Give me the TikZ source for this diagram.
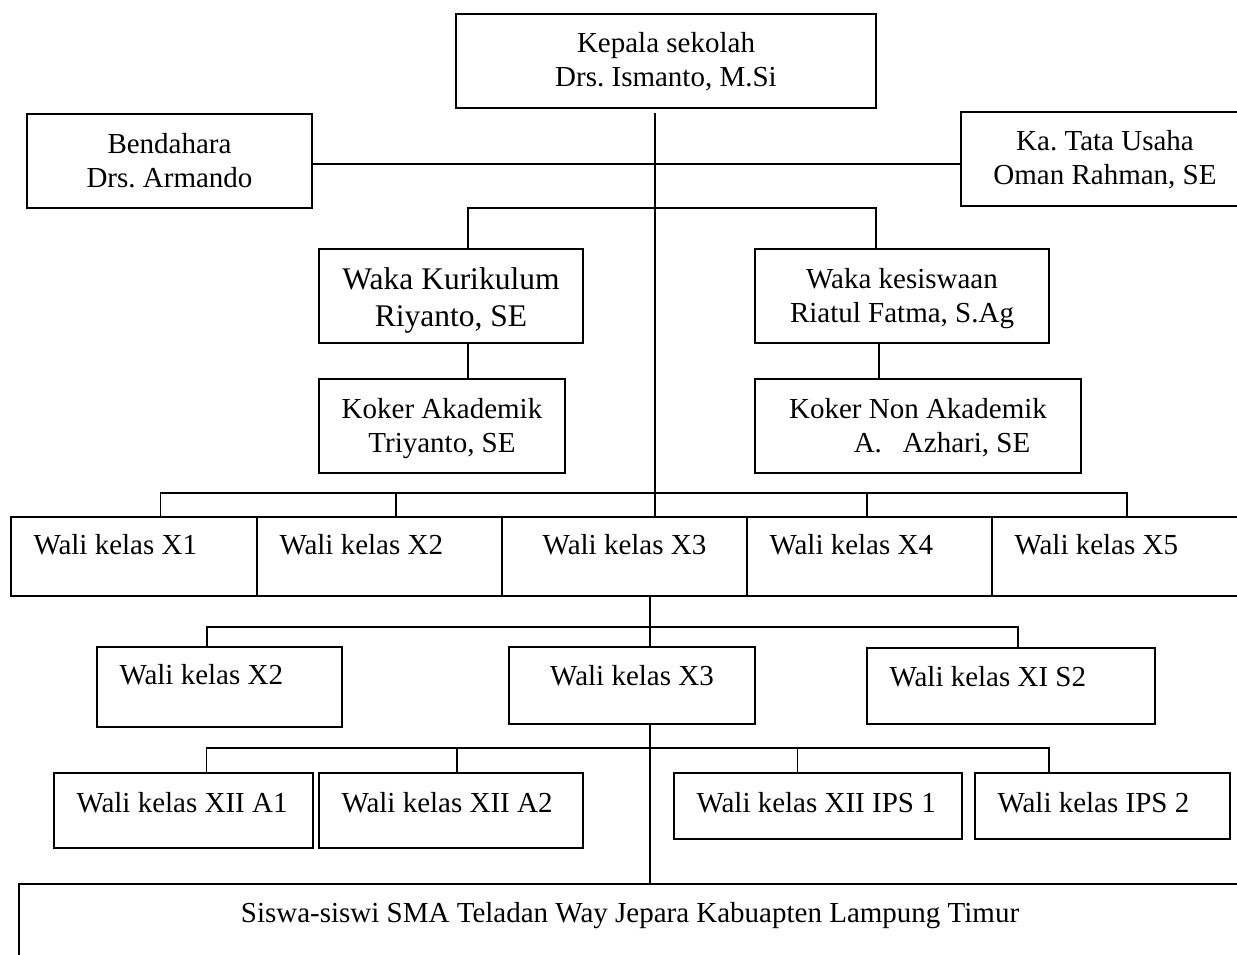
\documentclass[tikz,border=0pt]{standalone}
\usepackage{fontspec}
\setmainfont{Liberation Serif}
\usetikzlibrary{calc,positioning}

\tikzset{
  box/.style={draw, line width=1.8pt, inner sep=0pt, align=center,
    text height=54pt, text depth=2pt},
  wali/.style={draw, line width=1.8pt, inner xsep=22.5pt, inner ysep=0pt,
    align=flush left, text height=20pt, text width=#1},
  wali/.default=200pt,
  link/.style={line width=1.8pt},
}

\begin{document}
\frenchspacing
\begin{tikzpicture}[x=1pt, y=-1pt, font=\fontsize{29}{34}\selectfont]
\useasboundingbox (0,0) rectangle (1237,955);

%%%%%%%%%%%%%%%%% pimpinan
\node[box, minimum width=420pt, minimum height=94pt] (kepala) at (666,61) {Kepala sekolah\\Drs. Ismanto, M.Si};
\node[box, minimum width=285pt, minimum height=94pt] (bendahara) at (169.5,161) {Bendahara\\Drs. Armando};
\node[box, minimum width=288pt, minimum height=94pt] (tu) at (1105,159) {Ka. Tata Usaha\\Oman Rahman, SE};

%%%%%%%%%%%%%%%%% waka & koker
\node[box, minimum width=264pt, minimum height=94pt, font=\fontsize{31.5}{37}\selectfont, text height=60pt, text depth=0pt] (wakakur) at (451,296) {Waka Kurikulum\\Riyanto, SE};
\node[box, minimum width=246pt, minimum height=94pt] (kokerak) at (442,426) {Koker Akademik\\Triyanto, SE};
\node[box, minimum width=294pt, minimum height=94pt] (wakasis) at (902,296) {Waka kesiswaan\\Riatul Fatma, S.Ag};
\node[box, minimum width=326pt, minimum height=94pt] (kokernon) at (918,426) {Koker Non Akademik\\\hspace*{48pt}A.\hspace{21pt}Azhari, SE};

%%%%%%%%%%%%%%%%% wali kelas X
\node[wali=201pt, minimum height=79pt, text depth=25pt] (x1) at (134,556.5) {Wali kelas X1};
\node[wali=200pt, minimum height=79pt, text depth=25pt] (x2) at (379.5,556.5) {Wali kelas X2};
\node[box, minimum width=245pt, minimum height=79pt, text height=20pt, text depth=25pt] (x3) at (624.5,556.5) {Wali kelas X3};
\node[wali=200pt, minimum height=79pt, text depth=25pt] (x4) at (869.5,556.5) {Wali kelas X4};
\node[wali=201pt, minimum height=79pt, text depth=25pt] (x5) at (1115,556.5) {Wali kelas X5};

%%%%%%%%%%%%%%%%% wali kelas XI
\node[wali=200pt, minimum height=80pt, text depth=26pt] (m2) at (219.5,687) {Wali kelas X2};
\node[box, minimum width=246pt, minimum height=77pt, text height=20pt, text depth=21pt] (m3) at (632,685.5) {Wali kelas X3};
\node[wali=243pt, minimum height=76pt, text depth=20pt] (m11) at (1011,686) {Wali kelas XI S2};

%%%%%%%%%%%%%%%%% wali kelas XII
\node[wali=214pt, minimum height=75pt, text depth=17pt] (a1) at (183.5,810.5) {Wali kelas XII A1};
\node[wali=219pt, minimum height=75pt, text depth=17pt] (a2) at (451,810.5) {Wali kelas XII A2};
\node[wali=243pt, minimum height=66pt, text depth=8pt] (ips1) at (818,806) {Wali kelas XII IPS 1};
\node[wali=210pt, minimum height=66pt, text depth=8pt] (ips2) at (1102.5,806) {Wali kelas IPS 2};

\node[box, minimum width=1222pt, minimum height=96pt, text height=20pt, text depth=40pt] (siswa) at (630,932) {Siswa-siswi SMA Teladan Way Jepara Kabuapten Lampung Timur};

%%%%%%%%%%%%%%%%% garis
\coordinate (spine) at (655,113);
\coordinate (busA) at (0,164);
\coordinate (busB) at (0,208);
\coordinate (busC) at (0,493);
\coordinate (busD) at (0,627);
\coordinate (busE) at (0,748);

\draw[link] (spine) -- (spine |- x3.north);
\draw[link] (bendahara.east |- busA) -- (tu.west |- busA);
\draw[link] ([xshift=17pt]wakakur.north) |- ([xshift=-26pt]wakasis.north |- busB) -- ([xshift=-26pt]wakasis.north);
\draw[link] ([xshift=17pt]wakakur.south) -- ([xshift=17pt]wakakur.south |- kokerak.north);
\draw[link] ([xshift=-23pt]wakasis.south) -- ([xshift=-23pt]wakasis.south |- kokernon.north);

\draw[link] ([xshift=26.5pt]x1.north) |- ([xshift=12pt]x5.north |- busC) -- ([xshift=12pt]x5.north);
\draw[link] ([xshift=16.5pt]x2.north) -- ([xshift=16.5pt]x2.north |- busC);
\draw[link] ([xshift=-2.5pt]x4.north) -- ([xshift=-2.5pt]x4.north |- busC);

\draw[link] ([xshift=25.5pt]x3.south) -- ([xshift=25.5pt]x3.south |- m3.north);
\draw[link] ([xshift=-12.5pt]m2.north) |- ([xshift=7pt]m11.north |- busD) -- ([xshift=7pt]m11.north);
\draw[link] ([xshift=18pt]m3.south) -- ([xshift=18pt]m3.south |- siswa.north);

\draw[link] ([xshift=23pt]a1.north) |- ([xshift=-53.5pt]ips2.north |- busE) -- ([xshift=-53.5pt]ips2.north);
\draw[link] ([xshift=6pt]a2.north) -- ([xshift=6pt]a2.north |- busE);
\draw[link] ([xshift=-20.5pt]ips1.north) -- ([xshift=-20.5pt]ips1.north |- busE);
\end{tikzpicture}
\end{document}
